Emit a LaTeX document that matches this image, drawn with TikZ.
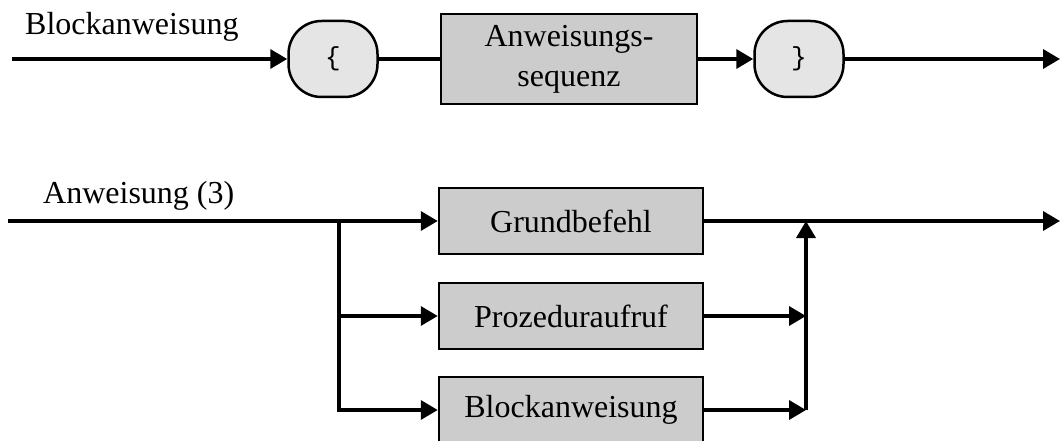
\documentclass[tikz,border=0pt]{standalone}
\usepackage{fontspec}
\setmainfont{Liberation Serif}
\setmonofont{Liberation Mono}
\usetikzlibrary{shapes, arrows.meta}
\usetikzlibrary{positioning}
\definecolor{boxgray}{gray}{0.8}
\definecolor{termgray}{gray}{0.9}
\tikzstyle{box} = [rectangle, minimum width = 264, minimum height = 66,
  inner sep = 0, draw = black, line width = 2.5, fill = boxgray, text centered]
\tikzstyle{term} = [
  rectangle, rounded corners = 33,
  minimum width = 89, minimum height = 76, inner sep = 0,
  draw = black, line width = 2.5, fill = termgray, text centered,
  font = \ttfamily\fontsize{26}{30}\selectfont
]
\tikzstyle{rulename} = [anchor = base west, inner sep = 0]
\tikzstyle{conn} = [line width = 3.5, -{Triangle[length = 17pt, width = 19pt]}]
\tikzstyle{plain} = [line width = 3.5]

\begin{document}
\begin{tikzpicture}[x = 1pt, y = 1pt, node distance = 0,
    font = \fontsize{32}{40}\selectfont]
  \useasboundingbox (0, 0) rectangle (1060, -441);

  % Blockanweisung
  \node [term] (open) at (333, -59) {\{};
  \node [box, minimum width = 256, minimum height = 90, align = center,
    right of = open, xshift = 236] (seq) {Anweisungs-\\sequenz};
  \node [term, right of = seq, xshift = 230] (close) {\}};
  \node [rulename] (title-a) at (25, -35) {Blockanweisung};

  \coordinate (in-a) at (12, -59);
  \coordinate (out-a) at (1060, -59);
  \draw [conn] (in-a) -- (open);
  \draw [plain] (open) -- (seq);
  \draw [conn] (seq) -- (close);
  \draw [conn] (close) -- (out-a);

  % Anweisung (3)
  \node [box] (basic) at (571, -221) {Grundbefehl};
  \node [box, below of = basic, yshift = -95] (call) {Prozeduraufruf};
  \node [box, below of = call, yshift = -94] (block) {Blockanweisung};
  \node [rulename] (title-b) at (43, -203) {Anweisung (3)};

  \coordinate (in-b) at (8, -221);
  \coordinate (split) at (339, -221);
  \coordinate (join) at (806, -221);
  \coordinate (out-b) at (1060, -221);
  \draw [conn] (in-b) -- (basic);
  \draw [conn] (split) |- (call);
  \draw [conn] (split) |- (block);
  \draw [conn] (call) -- (call -| join);
  \draw [conn] (block) -- (block -| join);
  \draw [conn] (block -| join) -- (join);
  \draw [conn] (basic) -- (out-b);
\end{tikzpicture}
\end{document}
